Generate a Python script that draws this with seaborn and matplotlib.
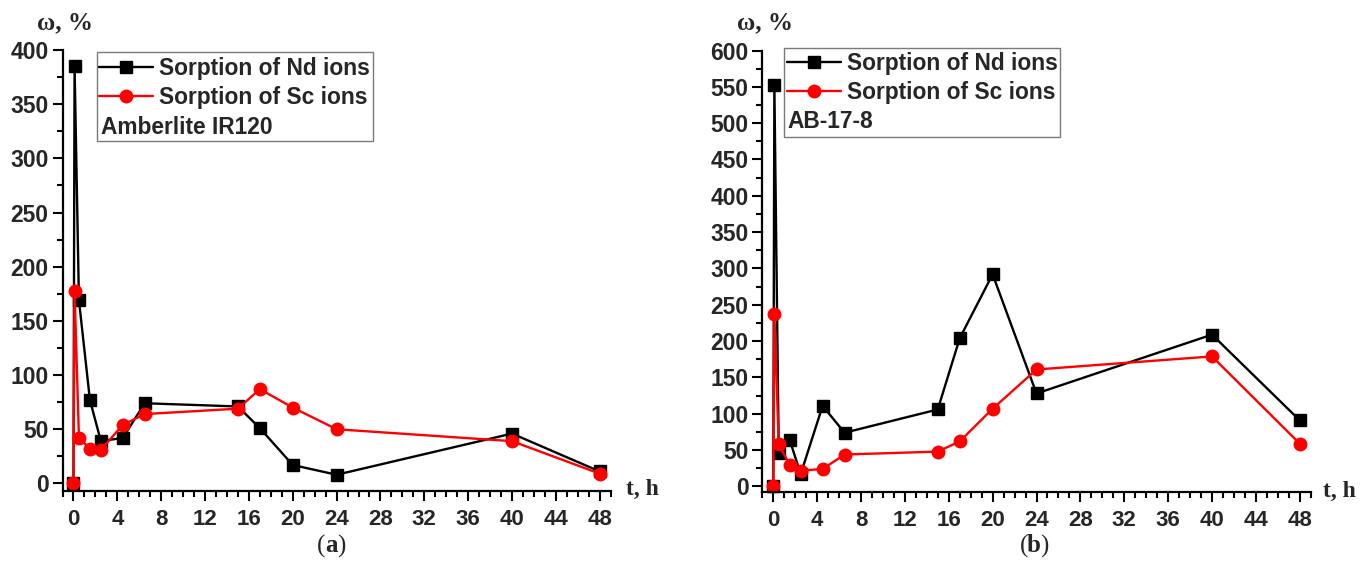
import matplotlib
matplotlib.use("Agg")
import matplotlib.pyplot as plt
import seaborn as sns
import numpy as np
import pandas as pd
from matplotlib.patches import Rectangle
from matplotlib.lines import Line2D
from matplotlib.ticker import FixedLocator, MultipleLocator

# ---------------- data ----------------
t_hours = [0, 0.1, 0.5, 1.5, 2.5, 4.5, 6.5, 15, 17, 20, 24, 40, 48]
nd_amberlite = [0, 385, 169, 77, 39, 42, 74, 71, 51, 17, 8, 46, 11]
sc_amberlite = [0, 178, 42, 32, 31, 54, 64, 69, 87, 70, 50, 39, 9]
nd_ab178 = [0, 552, 46, 64, 17, 111, 74, 106, 204, 292, 128, 209, 91]
sc_ab178 = [0, 237, 58, 30, 22, 24, 44, 48, 62, 107, 161, 179, 59]

series_labels = ["Sorption of Nd ions", "Sorption of Sc ions"]
resin_labels = ["Amberlite IR120", "AB-17-8"]
panel_letters = ["a", "b"]
x_ticks = list(range(0, 49, 4))
y_ticks_a = list(range(0, 401, 50))
y_ticks_b = list(range(0, 601, 50))
x_axis_label = "t, h"
y_axis_label = "ω, %"

# ---------------- style ----------------
sns.set_theme(style="ticks")
plt.rcParams['font.family'] = ['Liberation Sans', 'DejaVu Sans']
plt.rcParams['font.weight'] = 'bold'

W, H = 1368, 583
fig = plt.figure(figsize=(W / 100, H / 100), dpi=100)


def fx(px):
    return px / W


def fy(py):
    return 1 - py / H


def make_axes(left, right, top, bottom):
    return fig.add_axes([fx(left), fy(bottom), fx(right) - fx(left), fy(top) - fy(bottom)])


ax_a = make_axes(62.5, 610.7, 50, 491)
ax_b = make_axes(762.3, 1310.7, 50.5, 492.3)

SERIF = ['Liberation Serif', 'DejaVu Serif']


def draw_panel(ax, nd, sc, ylim, yticks):
    sns.lineplot(x=t_hours, y=nd, ax=ax, color='black', marker='s', markersize=8,
                 markeredgecolor='black', markeredgewidth=1, linewidth=1.7,
                 estimator=None, sort=False, legend=False, clip_on=False)
    sns.lineplot(x=t_hours, y=sc, ax=ax, color='#ff0000', marker='o', markersize=9,
                 markeredgecolor='#ff0000', markeredgewidth=1, linewidth=1.7,
                 estimator=None, sort=False, legend=False, clip_on=False)
    ax.set_xlim(-1, 49)
    ax.set_ylim(*ylim)
    ax.xaxis.set_major_locator(FixedLocator(x_ticks))
    ax.xaxis.set_minor_locator(MultipleLocator(1))
    ax.yaxis.set_major_locator(FixedLocator(yticks))
    ax.yaxis.set_minor_locator(MultipleLocator(25))
    ax.set_xticklabels([str(v) for v in x_ticks])
    ax.set_yticklabels([str(v) for v in yticks])
    ax.set_xlabel('')
    ax.set_ylabel('')
    sns.despine(ax=ax)
    for side in ['left', 'bottom']:
        ax.spines[side].set_linewidth(1.6)
        ax.spines[side].set_color('black')
    ax.tick_params(which='major', direction='out', length=7, width=1.5, color='black')
    ax.tick_params(which='minor', direction='out', length=4, width=1.5, color='black')
    ax.tick_params(axis='x', which='major', labelsize=16, pad=6)
    ax.tick_params(axis='y', which='major', labelsize=16.5, pad=3)
    for lbl in ax.get_xticklabels() + ax.get_yticklabels():
        lbl.set_fontweight('bold')
    ax.set_facecolor('white')


draw_panel(ax_a, nd_amberlite, sc_amberlite, (-7, 400), y_ticks_a)
draw_panel(ax_b, nd_ab178, sc_ab178, (-8, 600), y_ticks_b)

# ---------------- legends ----------------
handles = [
    Line2D([], [], color='black', marker='s', markersize=8, markeredgecolor='black', linewidth=1.7),
    Line2D([], [], color='#ff0000', marker='o', markersize=9, markeredgecolor='#ff0000', linewidth=1.7),
]

legend_specs = [
    # box (x0, y0, x1, y1), handle start x, first row top, resin text pos
    ((97, 52, 373, 141), 99, 57, (101, 127), resin_labels[0]),
    ((784, 48, 1060, 137), 787, 52, (787.5, 122), resin_labels[1]),
]
for box, hx, rtop, tpos, resin in legend_specs:
    x0, y0, x1, y1 = box
    fig.add_artist(Rectangle((fx(x0), fy(y1)), fx(x1) - fx(x0), fy(y0) - fy(y1),
                             transform=fig.transFigure, facecolor='white',
                             edgecolor='#7a7a7a', linewidth=1.0, zorder=5))
    leg = fig.legend(handles, series_labels, loc='upper left',
                     bbox_to_anchor=(fx(hx), fy(rtop)), bbox_transform=fig.transFigure,
                     frameon=False, borderpad=0, borderaxespad=0,
                     handlelength=2.35, handletextpad=0.3, labelspacing=0.25,
                     prop={'family': 'Liberation Sans', 'weight': 'bold', 'size': 16.4})
    leg.set_zorder(6)
    fig.text(fx(tpos[0]), fy(tpos[1]), resin, ha='left', va='center',
             fontsize=16.4, fontweight='bold', family='Liberation Sans', zorder=7)

# ---------------- axis titles ----------------
for cx, cy in [(65, 22.5), (765, 23)]:
    fig.text(fx(cx), fy(cy), y_axis_label, ha='center', va='center',
             fontsize=18, fontweight='bold', family=SERIF)
for lx, cy in [(626, 489), (1323, 491)]:
    fig.text(fx(lx), fy(cy), x_axis_label, ha='left', va='center',
             fontsize=17, fontweight='bold', family=SERIF)

# ---------------- panel captions ----------------
for cx, letter in [(331, panel_letters[0]), (1034, panel_letters[1])]:
    cy = 546
    fig.text(fx(cx - 6), fy(cy), "(", ha='right', va='center', fontsize=18,
             fontweight='normal', family=SERIF)
    fig.text(fx(cx), fy(cy), letter, ha='center', va='center', fontsize=18,
             fontweight='bold', family=SERIF)
    fig.text(fx(cx + 6), fy(cy), ")", ha='left', va='center', fontsize=18,
             fontweight='normal', family=SERIF)

fig.savefig("out.png", dpi=100, facecolor='white')
